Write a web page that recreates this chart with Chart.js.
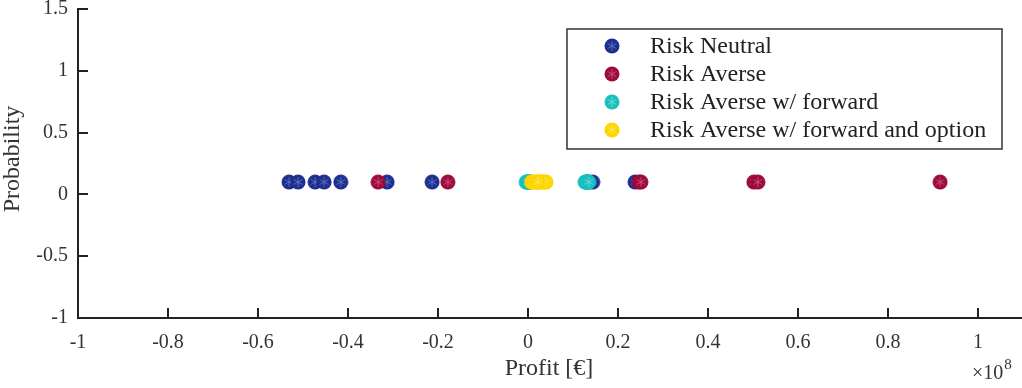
<!DOCTYPE html>
<html>
<head>
<meta charset="utf-8">
<script src="https://cdn.jsdelivr.net/npm/chart.js@4"></script>
<style>
  html, body { margin: 0; padding: 0; background: #fff; }
  #wrap { width: 1022px; height: 388px; }
</style>
</head>
<body>
<div id="wrap"><canvas id="chart"></canvas></div>
<script>
// profit per scenario, in units of 1e8 EUR; every scenario has probability 0.1
const seriesNames = ['Risk Neutral', 'Risk Averse', 'Risk Averse w/ forward', 'Risk Averse w/ forward and option'];
const riskNeutral = [-0.531, -0.511, -0.473, -0.453, -0.416, -0.313, -0.213, 0.003, 0.144, 0.238];
const riskAverse = [-0.333, -0.178, 0.0, 0.131, 0.133, 0.247, 0.251, 0.502, 0.511, 0.916];
const riskAverseFwd = [-0.004, -0.001, 0.002, 0.006, 0.127, 0.129, 0.131, 0.133, 0.135, 0.0];
const riskAverseFwdOpt = [0.008, 0.012, 0.016, 0.02, 0.024, 0.028, 0.032, 0.036, 0.04, 0.022];
const probability = 0.1;
const xTicks = [-1, -0.8, -0.6, -0.4, -0.2, 0, 0.2, 0.4, 0.6, 0.8, 1];
const yTicks = [-1, -0.5, 0, 0.5, 1, 1.5];

const colors = ['#1c2e8e', '#9c0a3c', '#18bfbf', '#ffd500'];
const starColors = ['#6d7cc0', '#d05a80', '#7ae0e0', '#ffe870'];
const SERIF = '"Liberation Serif", "DejaVu Serif", serif';

function makeMarker(fill, line) {
  const c = document.createElement('canvas');
  c.width = 16; c.height = 16;
  const g = c.getContext('2d');
  g.fillStyle = fill;
  g.beginPath(); g.arc(8, 8, 7.5, 0, Math.PI * 2); g.fill();
  g.strokeStyle = line; g.lineWidth = 0.8;
  [90, 30, 150].forEach(function (deg) {
    const a = deg * Math.PI / 180;
    g.beginPath();
    g.moveTo(8 - 5 * Math.cos(a), 8 - 5 * Math.sin(a));
    g.lineTo(8 + 5 * Math.cos(a), 8 + 5 * Math.sin(a));
    g.stroke();
  });
  return c;
}
const markers = colors.map((c, i) => makeMarker(c, starColors[i]));

const allSeries = [riskNeutral, riskAverse, riskAverseFwd, riskAverseFwdOpt];
// later series are drawn on top, like in the original plot
const datasets = allSeries.map((vals, i) => ({
  label: seriesNames[i],
  data: vals.map(v => ({ x: v, y: probability })),
  pointStyle: markers[i],
  pointRadius: 8,
  showLine: false,
  order: allSeries.length - 1 - i
}));

const decor = {
  id: 'decor',
  afterDraw(chart) {
    const ctx = chart.ctx;
    const xs = chart.scales.x, ys = chart.scales.y;
    const area = chart.chartArea;
    ctx.save();
    // inward tick marks
    ctx.strokeStyle = '#222'; ctx.lineWidth = 2;
    yTicks.forEach(v => {
      const py = Math.round(ys.getPixelForValue(v));
      ctx.beginPath(); ctx.moveTo(area.left, py); ctx.lineTo(area.left + 10, py); ctx.stroke();
    });
    xTicks.forEach(v => {
      const px = Math.round(xs.getPixelForValue(v));
      ctx.beginPath(); ctx.moveTo(px, area.bottom); ctx.lineTo(px, area.bottom - 10); ctx.stroke();
    });
    // axis titles
    ctx.fillStyle = '#333';
    ctx.font = '24px ' + SERIF;
    ctx.textAlign = 'center'; ctx.textBaseline = 'middle';
    ctx.fillText('Profit [€]', 549, 369);
    ctx.save();
    ctx.translate(13, 159); ctx.rotate(-Math.PI / 2);
    ctx.fillText('Probability', 0, 0);
    ctx.restore();
    ctx.font = '20px ' + SERIF;
    ctx.textAlign = 'left';
    ctx.fillText('×10', 972, 374);
    const w = ctx.measureText('×10').width;
    ctx.font = '15px ' + SERIF;
    ctx.fillText('8', 972 + w + 1, 365);
    // legend box
    ctx.fillStyle = '#fff';
    ctx.fillRect(567, 29, 435, 120);
    ctx.strokeStyle = '#333'; ctx.lineWidth = 1.5;
    ctx.strokeRect(567, 29, 435, 120);
    ctx.font = '24px ' + SERIF;
    ctx.fillStyle = '#222';
    ctx.textBaseline = 'middle';
    seriesNames.forEach((name, i) => {
      const y = 46 + i * 28;
      ctx.drawImage(markers[i], 604, y - 8);
      ctx.fillText(name, 650, y + 1);
    });
    ctx.restore();
  }
};

new Chart(document.getElementById('chart'), {
  type: 'scatter',
  data: { datasets: datasets },
  options: {
    responsive: true,
    maintainAspectRatio: false,
    animation: false,
    events: [],
    layout: { autoPadding: false, padding: { top: 9, right: 0, left: 0, bottom: 0 } },
    plugins: { legend: { display: false }, tooltip: { enabled: false } },
    scales: {
      x: {
        type: 'linear', min: -1, max: 1.098,
        afterBuildTicks: s => { s.ticks = xTicks.map(v => ({ value: v })); },
        afterFit: s => { s.height = 70; s.paddingLeft = 0; s.paddingRight = 0; },
        grid: { display: false, drawTicks: false },
        border: { color: '#222', width: 2 },
        ticks: { color: '#333', padding: 13, font: { family: SERIF, size: 20 }, maxRotation: 0, callback: v => String(v) }
      },
      y: {
        type: 'linear', min: -1, max: 1.5,
        afterBuildTicks: s => { s.ticks = yTicks.map(v => ({ value: v })); },
        afterFit: s => { s.width = 78; s.paddingTop = 0; s.paddingBottom = 0; },
        grid: { display: false, drawTicks: false },
        border: { color: '#222', width: 2 },
        ticks: { color: '#333', padding: 10, font: { family: SERIF, size: 20 }, callback: v => String(v) }
      }
    }
  },
  plugins: [decor]
});
</script>
</body>
</html>
